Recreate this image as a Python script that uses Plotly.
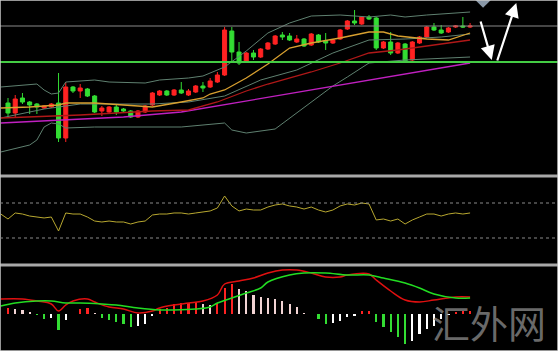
import plotly.graph_objects as go

# ---------------- data ----------------
idx = list(range(65))
open_ = [97, 87, 102, 98, 96, 92, 93, 97, 62, 113, 109, 111, 104, 89, 88, 93, 91, 89, 83, 88,
         95, 105, 109, 105, 110, 105, 108, 114, 113, 118, 125, 169, 148, 138, 147, 143, 151, 156, 165, 164,
         158, 161, 155, 165, 159, 157, 161, 171, 179, 176, 183, 182, 152, 158, 147, 156, 140, 157, 163, 173,
         170, 168, 173, 174, 173]
high = [102, 105, 107, 99, 97, 95, 97, 127, 118, 114, 116, 112, 105, 94, 94, 95, 92, 90, 90, 95,
        108, 110, 110, 111, 118, 111, 115, 118, 122, 128, 173, 173, 158, 148, 150, 152, 158, 165, 168, 167,
        165, 162, 167, 166, 167, 161, 171, 180, 190, 184, 185, 183, 159, 168, 158, 157, 159, 164, 174, 177,
        175, 173, 175, 183, 177]
low = [82, 82, 96, 86, 86, 91, 92, 58, 58, 107, 102, 103, 87, 84, 87, 85, 88, 82, 82, 87,
       94, 104, 104, 104, 106, 104, 107, 108, 112, 117, 124, 138, 135, 137, 140, 142, 150, 155, 160, 159,
       157, 153, 154, 157, 150, 156, 160, 170, 175, 175, 180, 150, 151, 145, 146, 138, 139, 156, 162, 169,
       166, 167, 172, 172, 172]
close = [87, 101, 98, 95, 93, 94, 96, 62, 113, 109, 112, 104, 88, 92, 93, 88, 89, 83, 89, 94,
         107, 109, 105, 110, 107, 109, 114, 112, 119, 125, 170, 148, 137, 147, 143, 151, 157, 164, 163, 160,
         161, 154, 166, 158, 157, 160, 170, 179, 177, 183, 181, 152, 158, 147, 157, 139, 158, 163, 173, 170,
         167, 172, 174, 173, 174]

# overlay lines on the price panel (candle index, value)
bb_up_x = [-1, 4, 5, 6, 7, 8, 12, 14, 19, 21, 25, 27, 30, 33, 36, 39, 42, 46, 50, 53, 55, 58, 64]
bb_up_y = [113, 116, 110, 106, 107, 118, 120, 118, 117, 120, 122, 124, 133, 149, 167, 177, 184, 185, 183, 185, 183, 185, 188]
bb_lo_x = [-1, 3, 4, 5, 6, 7, 8, 12, 24, 30, 31, 33, 37, 40, 45, 47, 50, 55, 64]
bb_lo_y = [48, 55, 60, 73, 77, 76, 72, 73, 73, 77, 70, 67, 71, 87, 114, 123, 137, 140, 143]
bb_mid_x = [-1, 5, 10, 20, 25, 30, 35, 40, 45, 50, 55, 60, 64]
bb_mid_y = [82, 91, 96, 96, 98, 104, 120, 130, 147, 160, 161, 163, 166]
ma_fast_x = [-1, 3, 7, 8, 12, 14, 20, 24, 27, 28, 30, 33, 36, 39, 42, 46, 50, 52, 54, 58, 61, 64]
ma_fast_y = [92, 93, 95, 97, 97, 96, 93, 98, 102, 106, 110, 122, 136, 152, 157, 162, 168, 168, 164, 161, 160, 167]
ma_mid_x = [-1, 10, 20, 25, 29, 33, 36, 42, 46, 50, 54, 58, 64]
ma_mid_y = [82, 85, 89, 90, 98, 109, 116, 128, 137, 147, 150, 154, 160]
ma_slow_x = [-1, 16, 24, 33, 42, 50, 64]
ma_slow_y = [77, 83, 88, 99, 110, 120, 137]

level_gray = 174
level_green = 138

# forecast arrows (tail -> head), in candle index / price units
arrow1 = (65.4, 180, 67.0, 140)
arrow2 = (67.7, 138, 70.4, 197)
marker_pt = (65.8, 200)

# RSI-like oscillator (middle panel)
rsi_x = list(range(-1, 65))
rsi = [57.4, 51.7, 58.6, 57.4, 55.1, 54.0, 52.9, 54.0, 38.0, 58.6, 57.4, 57.4, 54.0, 49.4, 48.3, 49.4,
       48.3, 48.3, 46.0, 48.3, 49.4, 56.3, 57.4, 57.4, 58.6, 58.6, 57.4, 58.6, 59.7, 60.9, 64.3, 78.0,
       66.6, 60.9, 63.1, 62.0, 62.0, 65.4, 67.7, 68.9, 66.6, 65.4, 63.1, 65.4, 62.0, 59.7, 62.0, 66.6,
       68.9, 67.7, 70.0, 68.9, 50.6, 51.7, 49.4, 51.7, 46.0, 50.6, 54.0, 57.4, 57.4, 55.1, 57.4, 58.6,
       57.4, 58.6]
rsi_levels = [70, 30]

# MACD (bottom panel)
macd_hist = [6, 5, 4, 2, -1, -5, -4, -16, -6, 0, 5, 6, 1, -4, -6, -8, -10, -13, -12, -10,
             -2, 5, 6, 10, 11, 11, 12, 10, 9, 11, 26, 30, 25, 23, 19, 17, 16, 15, 13, 10,
             7, 1, 0, -5, -10, -9, -7, -3, -2, 3, 3, -8, -13, -18, -23, -30, -27, -20, -15, -12,
             -5, -1, 2, 3, 3]
dif_x = [-1, 2, 4, 6, 7, 8, 9, 11, 12, 14, 16, 18, 20, 21, 23, 25, 27, 29, 30, 32, 34, 36, 38, 40,
         42, 44, 46, 47, 50, 51, 53, 55, 57, 59, 62, 64]
dif_y = [15, 15, 13, 10, 3, 9, 13, 15, 12, 7, 5, 1, 3, 6, 9, 11, 13, 19, 30, 33, 36, 41, 44, 44,
         41, 37, 37, 39, 40, 34, 23, 14, 12, 14, 17, 17]
dea_x = [-1, 1, 4, 6, 8, 10, 13, 15, 18, 21, 23, 26, 28, 29, 31, 33, 35, 36, 39, 41, 44, 47, 50,
         52, 55, 57, 59, 62, 64]
dea_y = [8, 11, 13, 13, 11, 11, 10, 9, 6, 4, 4, 5, 7, 11, 16, 21, 26, 32, 39, 41, 41, 39, 39,
         36, 31, 26, 20, 16, 16]

# ---------------- styling ----------------
RED = "#ff2222"
GREEN = "#33dd33"
BG = "#000000"

def hist_colors(vals):
    cols = []
    prev = None
    for v in vals:
        if v >= 0:
            cols.append(RED if (prev is None or v >= prev) else "#f2d4d4")
        else:
            cols.append(GREEN if (prev is None or v <= prev) else "#ffffff")
        prev = v
    return cols

fig = go.Figure()

line_specs = [
    (bb_up_x, bb_up_y, "#5f8070", 1),
    (bb_lo_x, bb_lo_y, "#5f8070", 1),
    (bb_mid_x, bb_mid_y, "#5f8070", 1),
    (ma_slow_x, ma_slow_y, "#c020c0", 1.3),
    (ma_mid_x, ma_mid_y, "#b01818", 1.3),
    (ma_fast_x, ma_fast_y, "#d8a030", 1.3),
]
for xs, ys, col, w in line_specs:
    fig.add_trace(go.Scatter(x=xs, y=ys, mode="lines", line=dict(color=col, width=w),
                             xaxis="x", yaxis="y", hoverinfo="skip", showlegend=False))

fig.add_trace(go.Candlestick(
    x=idx, open=open_, high=high, low=low, close=close,
    increasing=dict(line=dict(color=RED, width=1), fillcolor=RED),
    decreasing=dict(line=dict(color=GREEN, width=1), fillcolor=GREEN),
    xaxis="x", yaxis="y", showlegend=False))

fig.add_trace(go.Scatter(x=[marker_pt[0]], y=[marker_pt[1]], mode="markers",
                         marker=dict(symbol="diamond", size=12, color="#8a98a8"),
                         xaxis="x", yaxis="y", showlegend=False, hoverinfo="skip"))

# middle panel
fig.add_trace(go.Scatter(x=rsi_x, y=rsi, mode="lines", line=dict(color="#b8a830", width=1),
                         xaxis="x", yaxis="y2", showlegend=False))

# bottom panel
fig.add_trace(go.Bar(x=idx, y=macd_hist, marker=dict(color=hist_colors(macd_hist), line=dict(width=0)),
                     width=0.3, xaxis="x", yaxis="y3", showlegend=False))
fig.add_trace(go.Scatter(x=dif_x, y=dif_y, mode="lines", line=dict(color="#e01010", width=1.5, shape="spline"),
                         xaxis="x", yaxis="y3", showlegend=False))
fig.add_trace(go.Scatter(x=dea_x, y=dea_y, mode="lines", line=dict(color="#22dd22", width=1.5, shape="spline"),
                         xaxis="x", yaxis="y3", showlegend=False))

W, H = 558, 351
def py(pix):
    return 1 - pix / H

shapes = [
    dict(type="line", xref="paper", yref="y", x0=0, x1=1, y0=level_gray, y1=level_gray,
         line=dict(color="#8a8a8a", width=1)),
    dict(type="line", xref="paper", yref="y", x0=0, x1=1, y0=level_green, y1=level_green,
         line=dict(color="#44cc44", width=2)),
    dict(type="line", xref="paper", yref="paper", x0=0, x1=1, y0=py(176), y1=py(176),
         line=dict(color="#a8a8a8", width=3)),
    dict(type="line", xref="paper", yref="paper", x0=0, x1=1, y0=py(265), y1=py(265),
         line=dict(color="#a8a8a8", width=3)),
    dict(type="rect", xref="paper", yref="paper", x0=0, x1=1, y0=0, y1=1,
         line=dict(color="#c8c8c8", width=1.5)),
]
for lv in rsi_levels:
    shapes.append(dict(type="line", xref="paper", yref="y2", x0=0, x1=1, y0=lv, y1=lv,
                       line=dict(color="#8a8a8a", width=1, dash="dot")))

annotations = []
for (tx, ty, hx, hy) in (arrow1, arrow2):
    annotations.append(dict(x=hx, y=hy, ax=tx, ay=ty, xref="x", yref="y", axref="x", ayref="y",
                            showarrow=True, arrowhead=2, arrowsize=1.3, arrowwidth=2.2,
                            arrowcolor="#ffffff", text=""))
annotations.append(dict(x=489 / W, y=py(321), xref="paper", yref="paper", text="汇外网",
                        xanchor="center", yanchor="middle",
                        showarrow=False, font=dict(family="Noto Sans CJK SC", size=38,
                                                   color="rgba(125,125,125,0.85)")))

x0 = -1.108
x1 = (W - 8) / 7.22
ax_common = dict(showgrid=False, zeroline=False, showticklabels=False, visible=False)
fig.update_layout(
    width=W, height=H, margin=dict(l=0, r=0, t=0, b=0),
    paper_bgcolor=BG, plot_bgcolor=BG, showlegend=False,
    xaxis=dict(range=[x0, x1], rangeslider=dict(visible=False), anchor="y", **ax_common),
    yaxis=dict(domain=[py(174), 1], range=[26, 200], **ax_common),
    yaxis2=dict(domain=[py(263), py(178)], range=[1.43, 98.57], anchor="x", **ax_common),
    yaxis3=dict(domain=[0, py(267)], range=[-37, 47], anchor="x", **ax_common),
    shapes=shapes, annotations=annotations, bargap=0, boxgap=0.2,
)

fig.write_html("out.html")
